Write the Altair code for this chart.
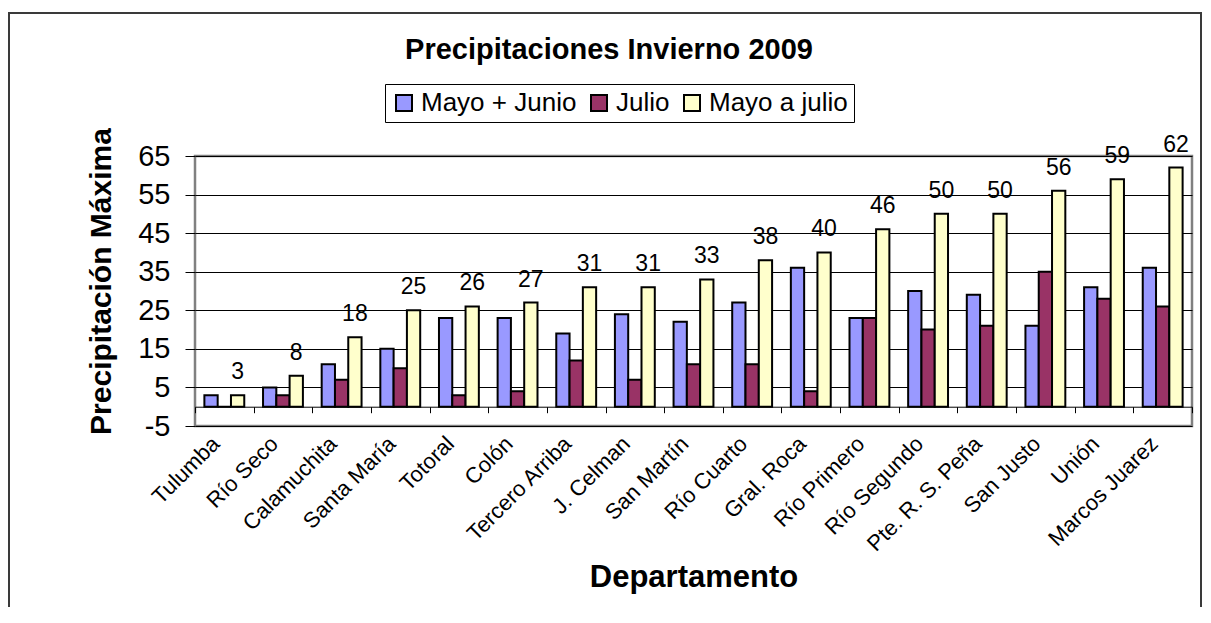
import altair as alt
import pandas as pd

# ---- data ----
departamentos = ["Tulumba", "Río Seco", "Calamuchita", "Santa María", "Totoral", "Colón",
                 "Tercero Arriba", "J. Celman", "San Martín", "Río Cuarto", "Gral. Roca",
                 "Río Primero", "Río Segundo", "Pte. R. S. Peña", "San Justo", "Unión",
                 "Marcos Juarez"]
mayo_junio = [3, 5, 11, 15, 23, 23, 19, 24, 22, 27, 36, 23, 30, 29, 21, 31, 36]
julio = [0, 3, 7, 10, 3, 4, 12, 7, 11, 11, 4, 23, 20, 21, 35, 28, 26]
mayo_a_julio = [3, 8, 18, 25, 26, 27, 31, 31, 33, 38, 40, 46, 50, 50, 56, 59, 62]
series = ["Mayo + Junio", "Julio", "Mayo a julio"]
colores = ["#9999FF", "#993366", "#FFFFCC"]
y_ticks = [-5, 5, 15, 25, 35, 45, 55, 65]
titulo = "Precipitaciones Invierno 2009"

rows = []
for i, d in enumerate(departamentos):
    for s, vals in zip(series, [mayo_junio, julio, mayo_a_julio]):
        rows.append({"Departamento": d, "Serie": s, "Valor": vals[i]})
df = pd.DataFrame(rows)

FONT = "Liberation Sans"
W, H = 997, 270

x_scale = alt.Scale(domain=departamentos, paddingInner=0, paddingOuter=0)
x_axis = alt.Axis(
    title="Departamento", orient="bottom", offset=-19.29, grid=False,
    domainColor="black", domainWidth=1, tickColor="black", tickWidth=1, tickSize=6,
    tickBand="extent", labelAngle=-45, labelAlign="right", labelBaseline="top",
    labelPadding=20, labelOffset=-16, labelFontSize=22, labelFont=FONT, labelColor="black",
    labelOverlap=False, labelLimit=0,
    titleFontSize=31, titleFont=FONT, titleFontWeight="bold", titleColor="black",
    titleX=W / 2, titleY=180, titleAlign="center", titleBaseline="alphabetic")
y_scale = alt.Scale(domain=[-5, 65], nice=False, zero=False)
y_axis = alt.Axis(
    title="Precipitación Máxima", values=y_ticks, domain=False, grid=True,
    gridColor="black", gridWidth=1, gridOpacity=1, tickColor="black", tickSize=10,
    labelExpr="'' + datum.value",
    labelFontSize=29, labelFont=FONT, labelColor="black", labelPadding=15, labelFlush=False,
    titleFontSize=30, titleFont=FONT, titleFontWeight="bold", titleColor="black",
    titleX=-85, titleY=125, titleAngle=-90, titleAlign="center", titleBaseline="alphabetic")
xo_scale = alt.Scale(domain=series, paddingInner=0, paddingOuter=0.706)

bars = alt.Chart(df).mark_bar(stroke="black", strokeWidth=2, opacity=1).encode(
    x=alt.X("Departamento:N", sort=departamentos, scale=x_scale, axis=x_axis),
    xOffset=alt.XOffset("Serie:N", sort=series, scale=xo_scale),
    y=alt.Y("Valor:Q", scale=y_scale, axis=y_axis),
    y2=alt.datum(0),
    color=alt.Color("Serie:N", sort=series, scale=alt.Scale(domain=series, range=colores),
                    legend=alt.Legend(
                        title=None, orient="none", legendX=190, legendY=-72,
                        direction="horizontal", columns=3, symbolType="square",
                        symbolSize=256, symbolStrokeColor="black", symbolStrokeWidth=2,
                        symbolOpacity=1, labelFontSize=26, labelFont=FONT,
                        labelColor="black", labelOffset=4, columnPadding=9, padding=6,
                        strokeColor="black", fillColor="white", labelLimit=0)),
)

labels = alt.Chart(df).transform_filter(alt.datum.Serie == "Mayo a julio").mark_text(
    font=FONT, fontSize=23, color="black", baseline="alphabetic", dy=-16).encode(
    x=alt.X("Departamento:N", sort=departamentos, scale=x_scale, axis=x_axis),
    xOffset=alt.XOffset("Serie:N", sort=series, scale=xo_scale),
    y=alt.Y("Valor:Q", scale=y_scale, axis=y_axis),
    text=alt.Text("Valor:Q"),
)

frame = alt.Chart(pd.DataFrame({"k": [0]})).mark_rect(
    fillOpacity=0, stroke="#3a3a3a", strokeWidth=2).encode(
    x=alt.value(-186), x2=alt.value(1006), y=alt.value(-143), y2=alt.value(700))

title_layer = alt.Chart(pd.DataFrame({"t": [titulo]})).mark_text(
    font=FONT, fontSize=29, fontWeight="bold", color="black", baseline="alphabetic",
    align="center").encode(
    x=alt.value(414), y=alt.value(-97), text="t:N")

chart = alt.layer(frame, bars, labels, title_layer).properties(
    width=W, height=H,
    autosize=alt.AutoSizeParams(type="none"),
    padding={"left": 187, "top": 148, "right": 11, "bottom": 181},
).configure_view(stroke="#808080", strokeWidth=2.5)

chart.save("out.html", embed_options={"renderer": "svg", "actions": False})
